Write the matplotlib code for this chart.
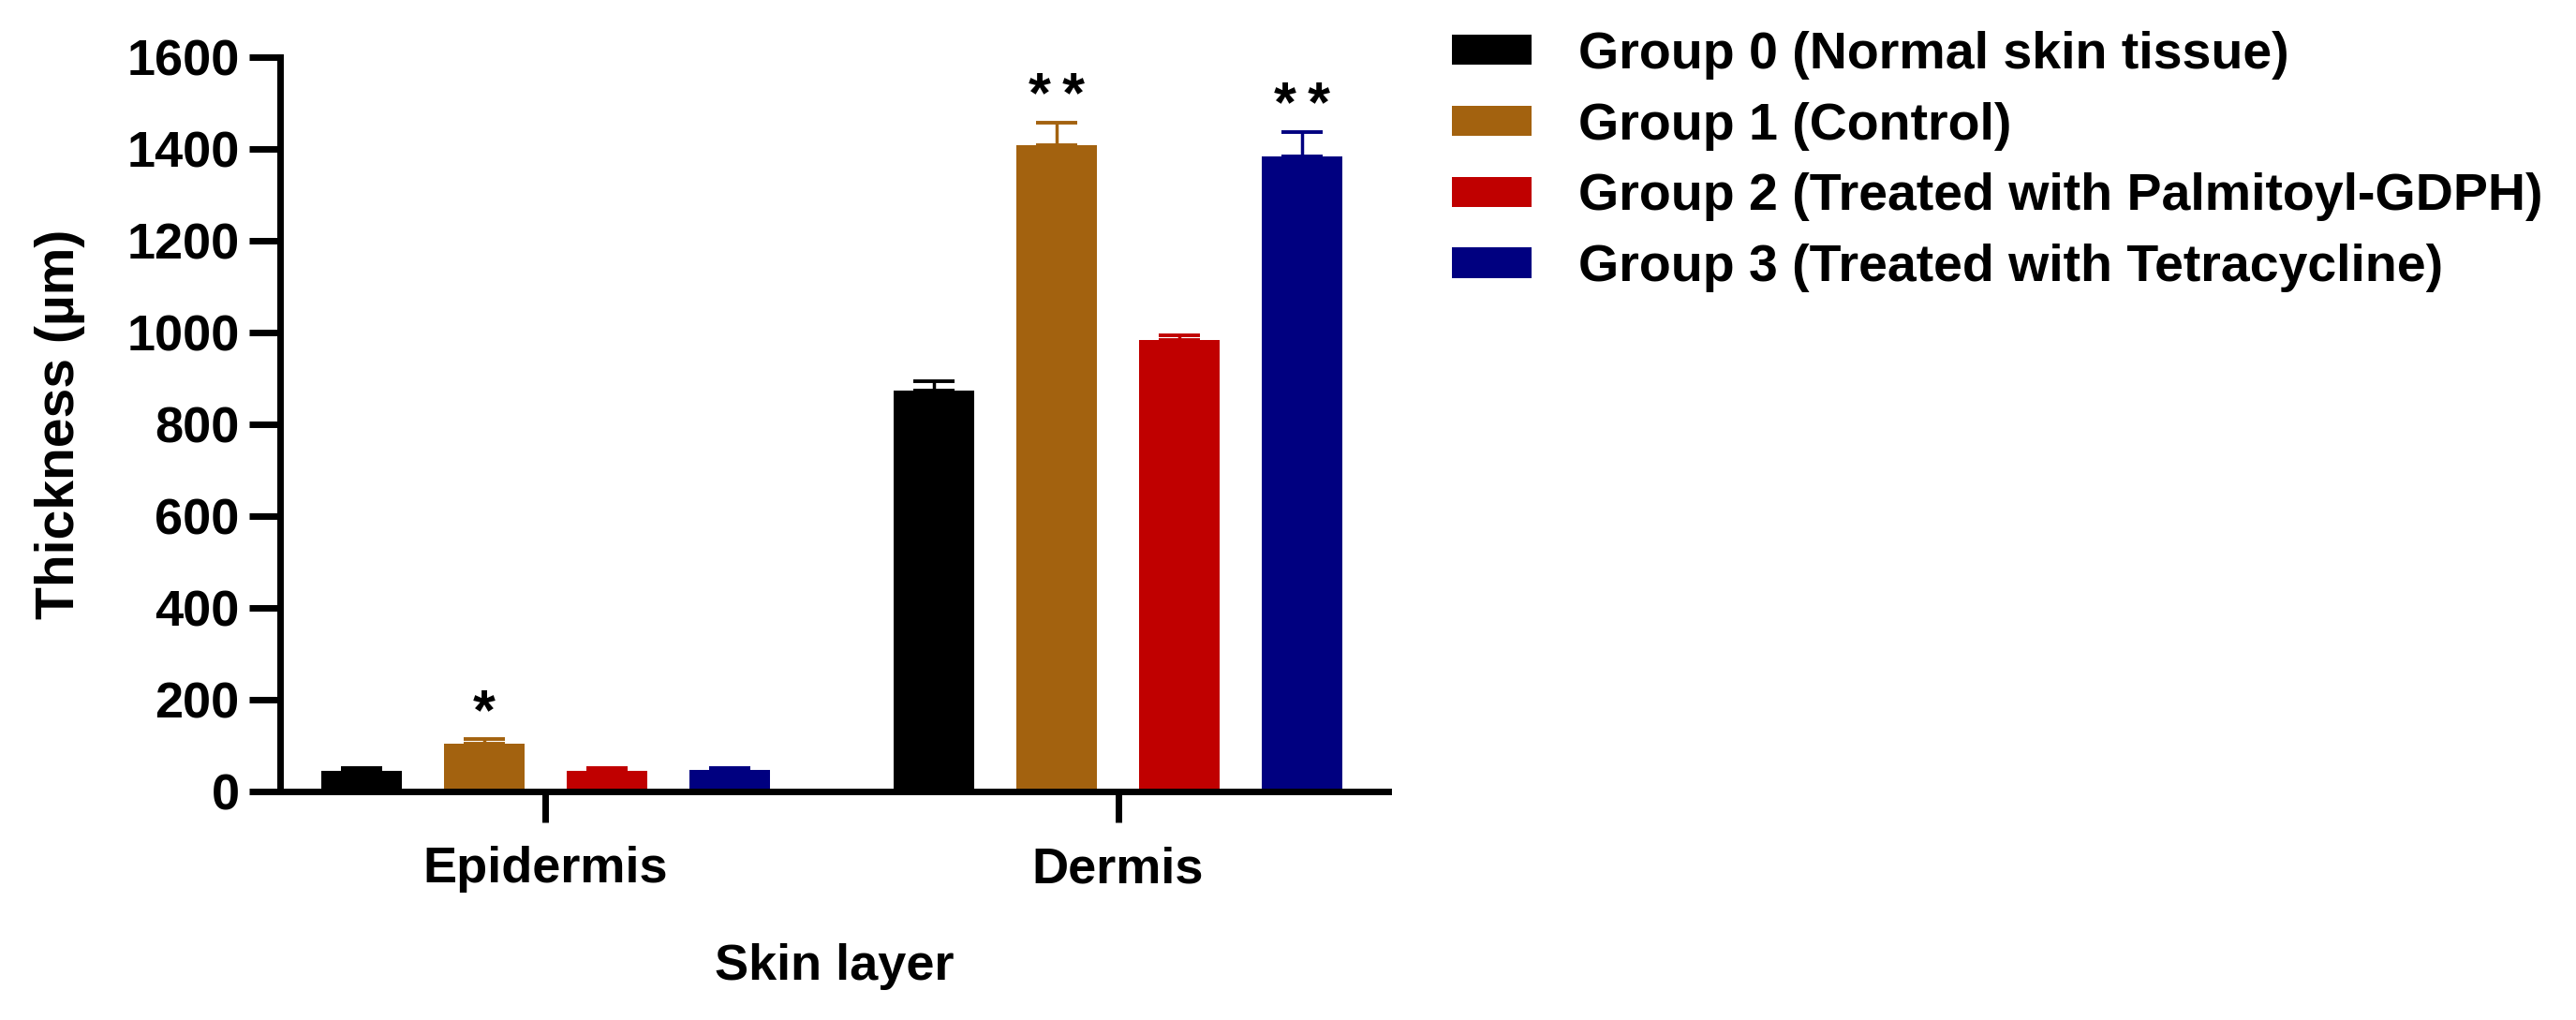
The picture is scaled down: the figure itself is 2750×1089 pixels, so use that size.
import matplotlib.pyplot as plt
import numpy as np

plt.rcParams['font.family'] = ['Liberation Sans', 'DejaVu Sans']
plt.rcParams['font.weight'] = 'bold'

# 数据
layers = ["Epidermis", "Dermis"]
groups = ["Group 0 (Normal skin tissue)",
          "Group 1 (Control)",
          "Group 2 (Treated with Palmitoyl-GDPH)",
          "Group 3 (Treated with Tetracycline)"]
colors = ["#000000", "#A3620F", "#C00000", "#000080"]

g0_mean = [45, 873]
g0_err = [5, 20]
g1_mean = [103, 1408]
g1_err = [11, 49]
g2_mean = [45, 983]
g2_err = [5, 10]
g3_mean = [47, 1383]
g3_err = [4, 54]

g0_sig = ["", ""]
g1_sig = ["*", "*\u2009*"]
g2_sig = ["", ""]
g3_sig = ["", "*\u2009*"]

means = [g0_mean, g1_mean, g2_mean, g3_mean]
errs = [g0_err, g1_err, g2_err, g3_err]
sigs = [g0_sig, g1_sig, g2_sig, g3_sig]

fig = plt.figure(figsize=(27.5, 10.89), dpi=100)
ax = fig.add_axes([0.1087, 0.2241, 0.4302, 0.7199])

x = np.arange(len(layers))
pitch = 0.2144
width = 0.1416

for i, (m, e, s) in enumerate(zip(means, errs, sigs)):
    pos = x + (i - 1.5) * pitch
    ax.bar(pos, m, width, color=colors[i], label=groups[i], zorder=2)
    ax.errorbar(pos, m, yerr=[np.zeros(len(e)), e], fmt='none', ecolor=colors[i],
                elinewidth=2.5, capsize=15.5, capthick=2.8, zorder=3)
    for xp, mv, ev, txt in zip(pos, m, e, s):
        if txt:
            ax.annotate(txt, (xp, mv + ev), xytext=(0, 8), textcoords='offset points',
                        ha='center', va='baseline', fontsize=44, fontweight='bold')

ax.set_ylim(0, 1600)
ax.set_xlim(-0.464, 1.472)
ax.set_yticks(range(0, 1601, 200))
ax.set_xticks(x)
ax.set_xticklabels(layers)

for side in ['top', 'right']:
    ax.spines[side].set_visible(False)
for side in ['left', 'bottom']:
    ax.spines[side].set_linewidth(5)

ax.tick_params(axis='both', length=24, width=5, labelsize=39)
ax.tick_params(axis='y', pad=7)
ax.tick_params(axis='x', pad=18)

ax.set_ylabel("Thickness (µm)", fontsize=41, fontweight='bold', labelpad=32)
ax.set_xlabel("Skin layer", fontsize=39, fontweight='bold', labelpad=39)

fig.legend(loc='upper left', bbox_to_anchor=(0.5636, 0.970), frameon=False,
           fontsize=40, handlelength=1.53, handleheight=0.52, handletextpad=0.9,
           labelspacing=0.43, borderpad=0, borderaxespad=0)

plt.savefig("out.png", dpi=100)
plt.close()
